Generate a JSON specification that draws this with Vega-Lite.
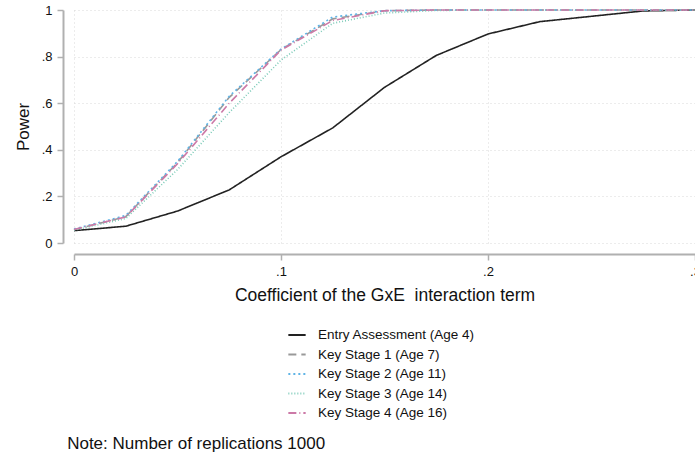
{
  "$schema": "https://vega.github.io/schema/vega-lite/v6.json",
  "width": 621,
  "height": 233,
  "autosize": {"type": "none"},
  "padding": {"left": 74, "top": 10, "right": 0, "bottom": 216},
  "background": "white",
  "config": {
    "font": "Liberation Sans",
    "view": {"stroke": null},
    "axis": {"labelFont": "Liberation Sans", "titleFont": "Liberation Sans"},
    "legend": {"labelFont": "Liberation Sans"},
    "title": {"font": "Liberation Sans"}
  },
  "title": {
    "text": "Note: Number of replications 1000",
    "orient": "bottom",
    "anchor": "start",
    "fontSize": 17,
    "fontWeight": "normal",
    "color": "#111",
    "dx": 53,
    "offset": 16
  },
  "data": {
    "values": [
      {"x": 0, "s": "Entry Assessment (Age 4)", "p": 0.053},
      {"x": 0.025, "s": "Entry Assessment (Age 4)", "p": 0.072},
      {"x": 0.05, "s": "Entry Assessment (Age 4)", "p": 0.137},
      {"x": 0.075, "s": "Entry Assessment (Age 4)", "p": 0.228},
      {"x": 0.1, "s": "Entry Assessment (Age 4)", "p": 0.37},
      {"x": 0.125, "s": "Entry Assessment (Age 4)", "p": 0.494},
      {"x": 0.15, "s": "Entry Assessment (Age 4)", "p": 0.668},
      {"x": 0.175, "s": "Entry Assessment (Age 4)", "p": 0.805},
      {"x": 0.2, "s": "Entry Assessment (Age 4)", "p": 0.897},
      {"x": 0.225, "s": "Entry Assessment (Age 4)", "p": 0.95},
      {"x": 0.25, "s": "Entry Assessment (Age 4)", "p": 0.973},
      {"x": 0.275, "s": "Entry Assessment (Age 4)", "p": 0.996},
      {"x": 0.3, "s": "Entry Assessment (Age 4)", "p": 1.0},

      {"x": 0, "s": "Key Stage 1 (Age 7)", "p": 0.057},
      {"x": 0.025, "s": "Key Stage 1 (Age 7)", "p": 0.113},
      {"x": 0.05, "s": "Key Stage 1 (Age 7)", "p": 0.345},
      {"x": 0.075, "s": "Key Stage 1 (Age 7)", "p": 0.625},
      {"x": 0.1, "s": "Key Stage 1 (Age 7)", "p": 0.83},
      {"x": 0.125, "s": "Key Stage 1 (Age 7)", "p": 0.962},
      {"x": 0.15, "s": "Key Stage 1 (Age 7)", "p": 0.997},
      {"x": 0.175, "s": "Key Stage 1 (Age 7)", "p": 1.0},
      {"x": 0.2, "s": "Key Stage 1 (Age 7)", "p": 1.0},
      {"x": 0.225, "s": "Key Stage 1 (Age 7)", "p": 1.0},
      {"x": 0.25, "s": "Key Stage 1 (Age 7)", "p": 1.0},
      {"x": 0.275, "s": "Key Stage 1 (Age 7)", "p": 1.0},
      {"x": 0.3, "s": "Key Stage 1 (Age 7)", "p": 1.0},

      {"x": 0, "s": "Key Stage 2 (Age 11)", "p": 0.06},
      {"x": 0.025, "s": "Key Stage 2 (Age 11)", "p": 0.118},
      {"x": 0.05, "s": "Key Stage 2 (Age 11)", "p": 0.35},
      {"x": 0.075, "s": "Key Stage 2 (Age 11)", "p": 0.63},
      {"x": 0.1, "s": "Key Stage 2 (Age 11)", "p": 0.832},
      {"x": 0.125, "s": "Key Stage 2 (Age 11)", "p": 0.97},
      {"x": 0.15, "s": "Key Stage 2 (Age 11)", "p": 0.997},
      {"x": 0.175, "s": "Key Stage 2 (Age 11)", "p": 1.0},
      {"x": 0.2, "s": "Key Stage 2 (Age 11)", "p": 1.0},
      {"x": 0.225, "s": "Key Stage 2 (Age 11)", "p": 1.0},
      {"x": 0.25, "s": "Key Stage 2 (Age 11)", "p": 1.0},
      {"x": 0.275, "s": "Key Stage 2 (Age 11)", "p": 1.0},
      {"x": 0.3, "s": "Key Stage 2 (Age 11)", "p": 1.0},

      {"x": 0, "s": "Key Stage 3 (Age 14)", "p": 0.055},
      {"x": 0.025, "s": "Key Stage 3 (Age 14)", "p": 0.105},
      {"x": 0.05, "s": "Key Stage 3 (Age 14)", "p": 0.315},
      {"x": 0.075, "s": "Key Stage 3 (Age 14)", "p": 0.56},
      {"x": 0.1, "s": "Key Stage 3 (Age 14)", "p": 0.785},
      {"x": 0.125, "s": "Key Stage 3 (Age 14)", "p": 0.943},
      {"x": 0.15, "s": "Key Stage 3 (Age 14)", "p": 0.987},
      {"x": 0.175, "s": "Key Stage 3 (Age 14)", "p": 0.998},
      {"x": 0.2, "s": "Key Stage 3 (Age 14)", "p": 1.0},
      {"x": 0.225, "s": "Key Stage 3 (Age 14)", "p": 1.0},
      {"x": 0.25, "s": "Key Stage 3 (Age 14)", "p": 1.0},
      {"x": 0.275, "s": "Key Stage 3 (Age 14)", "p": 1.0},
      {"x": 0.3, "s": "Key Stage 3 (Age 14)", "p": 1.0},

      {"x": 0, "s": "Key Stage 4 (Age 16)", "p": 0.058},
      {"x": 0.025, "s": "Key Stage 4 (Age 16)", "p": 0.112},
      {"x": 0.05, "s": "Key Stage 4 (Age 16)", "p": 0.34},
      {"x": 0.075, "s": "Key Stage 4 (Age 16)", "p": 0.6},
      {"x": 0.1, "s": "Key Stage 4 (Age 16)", "p": 0.828},
      {"x": 0.125, "s": "Key Stage 4 (Age 16)", "p": 0.955},
      {"x": 0.15, "s": "Key Stage 4 (Age 16)", "p": 0.997},
      {"x": 0.175, "s": "Key Stage 4 (Age 16)", "p": 1.0},
      {"x": 0.2, "s": "Key Stage 4 (Age 16)", "p": 1.0},
      {"x": 0.225, "s": "Key Stage 4 (Age 16)", "p": 1.0},
      {"x": 0.25, "s": "Key Stage 4 (Age 16)", "p": 1.0},
      {"x": 0.275, "s": "Key Stage 4 (Age 16)", "p": 1.0},
      {"x": 0.3, "s": "Key Stage 4 (Age 16)", "p": 1.0}
    ]
  },
  "mark": {"type": "line", "strokeWidth": 1.6},
  "encoding": {
    "x": {
      "field": "x",
      "type": "quantitative",
      "scale": {"domain": [0, 0.3], "nice": false, "zero": false},
      "axis": {
        "title": "Coefficient of the GxE\u00a0 interaction term",
        "titleFontSize": 17.5,
        "titleFontWeight": "normal",
        "titleColor": "#111",
        "titlePadding": 8,
        "values": [0, 0.1, 0.2, 0.3],
        "labelExpr": "datum.value == 0 ? '0' : replace(format(datum.value, '.1f'), '0.', '.')",
        "labelFontSize": 13,
        "labelColor": "#111",
        "labelPadding": 5,
        "labelFlush": false,
        "offset": 11,
        "domainColor": "#b0b0b0",
        "domainWidth": 2,
        "tickColor": "#b0b0b0",
        "tickWidth": 1.5,
        "tickSize": 6,
        "grid": true,
        "gridColor": "#d8d8d8",
        "gridDash": [1, 3],
        "gridWidth": 1
      }
    },
    "y": {
      "field": "p",
      "type": "quantitative",
      "scale": {"domain": [0, 1], "nice": false},
      "axis": {
        "title": "Power",
        "titleFontSize": 17,
        "titleFontWeight": "normal",
        "titleColor": "#111",
        "titlePadding": 9,
        "values": [0, 0.2, 0.4, 0.6, 0.8, 1],
        "labelExpr": "datum.value == 0 ? '0' : datum.value == 1 ? '1' : replace(format(datum.value, '.1f'), '0.', '.')",
        "labelFontSize": 13,
        "labelColor": "#111",
        "labelPadding": 5,
        "labelFlush": false,
        "offset": 11,
        "domainColor": "#b0b0b0",
        "domainWidth": 2,
        "tickColor": "#b0b0b0",
        "tickWidth": 1.5,
        "tickSize": 6,
        "grid": true,
        "gridColor": "#d8d8d8",
        "gridDash": [1, 3],
        "gridWidth": 1
      }
    },
    "color": {
      "field": "s",
      "type": "nominal",
      "scale": {
        "domain": ["Entry Assessment (Age 4)", "Key Stage 1 (Age 7)", "Key Stage 2 (Age 11)", "Key Stage 3 (Age 14)", "Key Stage 4 (Age 16)"],
        "range": ["#222222", "#999999", "#5fb4e6", "#7ccbb8", "#cc79a7"]
      },
      "legend": {
        "title": null,
        "orient": "none",
        "legendX": 213,
        "legendY": 315,
        "symbolType": "stroke",
        "symbolSize": 300,
        "symbolStrokeWidth": 1.8,
        "labelFontSize": 13.5,
        "labelColor": "#111",
        "labelOffset": 11,
        "rowPadding": 2.5,
        "labelLimit": 400
      }
    },
    "strokeDash": {
      "field": "s",
      "type": "nominal",
      "scale": {
        "domain": ["Entry Assessment (Age 4)", "Key Stage 1 (Age 7)", "Key Stage 2 (Age 11)", "Key Stage 3 (Age 14)", "Key Stage 4 (Age 16)"],
        "range": [[1, 0], [8, 5], [2, 3], [1, 2], [8, 3, 1, 3]]
      },
      "legend": {
        "title": null,
        "orient": "none",
        "legendX": 213,
        "legendY": 315,
        "symbolType": "stroke",
        "symbolSize": 300,
        "symbolStrokeWidth": 1.8,
        "labelFontSize": 13.5,
        "labelColor": "#111",
        "labelOffset": 11,
        "rowPadding": 2.5,
        "labelLimit": 400
      }
    }
  }
}
